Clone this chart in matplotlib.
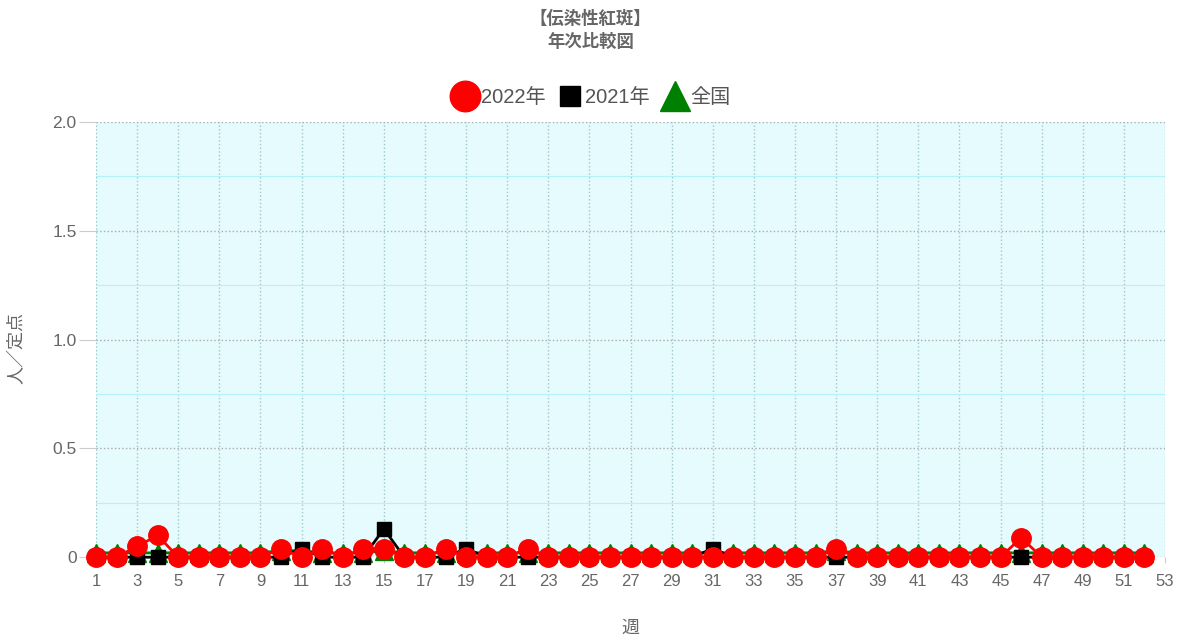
import matplotlib
matplotlib.use("Agg")
import matplotlib.pyplot as plt
import numpy as np
from matplotlib.lines import Line2D

plt.rcParams['font.family'] = ['Liberation Sans', 'Noto Sans CJK JP', 'DejaVu Sans']

weeks = np.arange(1, 53)

# 2022年 (red circles): mostly zero, a few small bumps
y2022 = np.zeros(52)
for w, v in {3: 0.05, 4: 0.10, 10: 0.04, 12: 0.04, 14: 0.04, 15: 0.04,
             18: 0.04, 22: 0.04, 37: 0.04, 46: 0.09}.items():
    y2022[w - 1] = v

# 2021年 (black squares)
y2021 = np.zeros(52)
for w, v in {11: 0.04, 15: 0.13, 19: 0.04, 31: 0.04}.items():
    y2021[w - 1] = v

# 全国 (green triangles)
ynat = np.full(52, 0.02)
for w, v in {10: 0.03, 11: 0.03, 15: 0.03, 37: 0.03}.items():
    ynat[w - 1] = v

title = '【伝染性紅斑】\n年次比較図'
labels = ['2022年', '2021年', '全国']
grey = '#666666'

fig = plt.figure(figsize=(11.81, 6.39), dpi=100)
ax = fig.add_axes([0.0813, 0.128, 0.9052, 0.681])
ax.set_facecolor('#e6fbfd')

ax.plot(weeks, ynat, color='green', lw=2, marker='^', ms=13, clip_on=False, zorder=3)
ax.plot(weeks, y2021, color='black', lw=2, marker='s', ms=10, clip_on=False, zorder=4)
ax.plot(weeks, y2022, color='red', lw=2, marker='o', ms=14, clip_on=False, zorder=5)

ax.set_xlim(1, 53)
ax.set_ylim(0, 2.0)
ax.set_xticks(np.arange(1, 54, 2))
ax.set_yticks([0, 0.5, 1.0, 1.5, 2.0])
ax.set_yticklabels(['0', '0.5', '1.0', '1.5', '2.0'])
ax.set_yticks([0.25, 0.75, 1.25, 1.75], minor=True)

ax.grid(axis='x', which='major', color='#9fc7cc', ls=':', lw=1)
ax.grid(axis='y', which='major', color='#aaaaaa', ls=':', lw=1)
ax.grid(axis='y', which='minor', color='#b5f3f8', ls='-', lw=0.8)
ax.set_axisbelow(True)

for s in ax.spines.values():
    s.set_visible(False)

ax.tick_params(axis='x', length=4, color='#cccccc', labelsize=12, labelcolor=grey, pad=8)
ax.tick_params(axis='y', length=12, color='#cccccc', labelsize=12.5, labelcolor=grey, pad=2)
ax.tick_params(axis='y', which='minor', length=0)

ax.set_xlabel('週', fontsize=13, color=grey, labelpad=22)
ax.set_ylabel('人／定点', fontsize=13, color=grey)
ax.yaxis.set_label_coords(-0.066, 0.48)

fig.text(0.5, 0.953, title, ha='center', va='center', fontsize=12.5,
         fontweight='bold', color=grey, linespacing=1.45)

handles = [Line2D([], [], ls='none', marker='o', color='red', ms=22),
           Line2D([], [], ls='none', marker='s', color='black', ms=15),
           Line2D([], [], ls='none', marker='^', color='green', ms=22)]
fig.legend(handles, labels, loc='center', bbox_to_anchor=(0.5, 0.848), ncol=3,
           frameon=False, fontsize=14.5, labelcolor='#555555',
           handletextpad=0.0, columnspacing=0.5, handlelength=1.5)

fig.savefig('out.png', dpi=100)
